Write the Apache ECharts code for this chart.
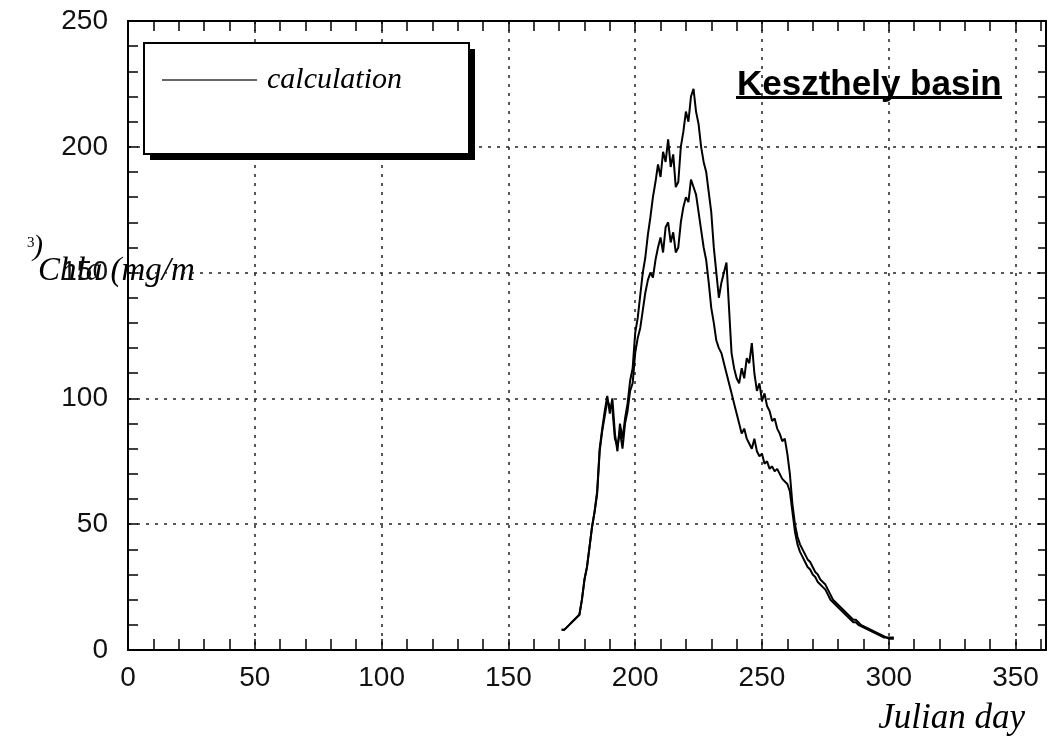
<!DOCTYPE html>
<html>
<head>
<meta charset="utf-8">
<script src="https://cdn.jsdelivr.net/npm/echarts@6/dist/echarts.min.js"></script>
<style>
html,body{margin:0;padding:0;background:#fff;}
#chart{width:1049px;height:746px;}
</style>
</head>
<body>
<div id="chart"></div>
<script>
// Julian days (171..302)
const days = [];
for (let d = 171; d <= 302; d++) days.push(d);

// upper calculation curve
const calcUpper = [
  8,8,9,10,11,12,13,14,20,28,
  33,41,49,55,63,80,88,95,101,94,
  100,86,79,90,84,92,98,107,112,126,
  132,141,150,156,165,172,180,186,193,188,
  198,194,203,192,197,184,186,200,206,214,
  210,220,223,214,209,200,194,190,182,174,
  160,150,140,146,150,154,136,118,112,108,
  106,112,108,116,114,122,110,103,106,99,
  102,97,95,91,92,88,86,83,84,78,
  70,58,50,45,42,40,38,36,35,33,
  31,30,28,27,26,24,22,20,19,18,
  17,16,15,14,13,12,12,11,10,9.5,
  9,8.5,8,7.5,7,6.5,6,5.5,5,5,
  5,5
];

// lower calculation curve
const calcLower = [
  8,8,9,10,11,12,13,14,20,28,
  33,41,49,55,62,79,87,93,99,97,
  96,84,81,87,80,90,95,103,106,118,
  124,128,135,142,147,150,148,155,160,164,
  158,168,170,162,166,158,160,170,176,180,
  178,187,184,181,174,167,160,155,146,136,
  130,123,120,118,114,110,106,102,98,94,
  90,86,88,84,82,80,84,79,77,78,
  74,75,72,73,71,72,70,68,67,66,
  63,55,47,42,39,37,35,33,32,30,
  29,27,26,25,24,22,20,19,18,17,
  16,15,14,13,12,11,11,10,9.5,9,
  8.5,8,7.5,7,6.5,6,5.5,5,5,4.5,
  4.5,4.5
];

const xTickLabels = [0, 50, 100, 150, 200, 250, 300, 350];
const yTickLabels = [0, 50, 100, 150, 200, 250];

const chart = echarts.init(document.getElementById('chart'), null, {renderer: 'canvas'});

const labelFont = {fontFamily: 'Liberation Sans', fontSize: 28, color: '#111'};
const gridLine = {show: true, lineStyle: {type: [3, 6], color: '#222', width: 1.5}};
const frameLine = {show: true, onZero: false, lineStyle: {color: '#000', width: 2}};

const option = {
  backgroundColor: '#fff',
  animation: false,
  grid: {left: 128, top: 21, right: 3, bottom: 96, containLabel: false},
  title: {
    text: 'Keszthely basin',
    left: 732, top: 63,
    textStyle: {fontFamily: 'Liberation Sans', fontWeight: 'bold', fontSize: 35, color: '#000'}
  },
  legend: {
    data: [{name: 'calculation', icon: 'rect'}],
    left: 143, top: 45,
    itemWidth: 95, itemHeight: 1.5,
    padding: [20, 66, 58, 19],
    selectedMode: false,
    z: 10,
    textStyle: {fontFamily: 'Liberation Serif', fontStyle: 'italic', fontSize: 30, color: '#000', padding: [0, 0, 0, 5]}
  },
  xAxis: [
    {
      type: 'value', min: 0, max: 362, interval: 10, position: 'bottom',
      axisLine: frameLine,
      axisTick: {show: true, inside: true, length: 11, lineStyle: {color: '#000', width: 1.5}},
      axisLabel: Object.assign({margin: 14, formatter: v => xTickLabels.indexOf(v) >= 0 ? String(v) : ''}, labelFont),
      splitLine: {show: false}
    },
    {
      type: 'value', min: 0, max: 362, interval: 10, position: 'top',
      axisLine: frameLine,
      axisTick: {show: true, inside: true, length: 10, lineStyle: {color: '#000', width: 1.5}},
      axisLabel: {show: false},
      splitLine: {show: false}
    },
    {
      type: 'value', min: 0, max: 362, interval: 50, position: 'bottom',
      axisLine: {show: false, onZero: false}, axisTick: {show: false}, axisLabel: {show: false},
      splitLine: gridLine
    }
  ],
  yAxis: [
    {
      type: 'value', min: 0, max: 250, interval: 10, position: 'left',
      axisLine: frameLine,
      axisTick: {show: true, inside: true, length: 10, lineStyle: {color: '#000', width: 1.5}},
      axisLabel: Object.assign({margin: 20, formatter: v => yTickLabels.indexOf(v) >= 0 ? String(v) : ''}, labelFont),
      splitLine: {show: false}
    },
    {
      type: 'value', min: 0, max: 250, interval: 10, position: 'right',
      axisLine: frameLine,
      axisTick: {show: true, inside: true, length: 8, lineStyle: {color: '#000', width: 1.5}},
      axisLabel: {show: false},
      splitLine: {show: false}
    },
    {
      type: 'value', min: 0, max: 250, interval: 50, position: 'left',
      axisLine: {show: false, onZero: false}, axisTick: {show: false}, axisLabel: {show: false},
      splitLine: gridLine
    }
  ],
  series: [
    {
      name: 'calculation', type: 'line', xAxisIndex: 0, yAxisIndex: 0,
      symbol: 'none', smooth: false,
      lineStyle: {color: '#000', width: 2},
      itemStyle: {color: '#333'},
      data: days.map((d, i) => [d, calcUpper[i]])
    },
    {
      name: 'calculation', type: 'line', xAxisIndex: 0, yAxisIndex: 0,
      symbol: 'none', smooth: false,
      lineStyle: {color: '#000', width: 2},
      itemStyle: {color: '#333'},
      data: days.map((d, i) => [d, calcLower[i]])
    }
  ],
  graphic: [
    {type: 'rect', z: 5, left: 150, top: 49, shape: {width: 325, height: 111}, style: {fill: '#000'}},
    {type: 'rect', z: 6, left: 143, top: 42, shape: {width: 325, height: 111}, style: {fill: '#fff', stroke: '#000', lineWidth: 2}},
    {type: 'rect', left: 736, top: 96, shape: {width: 266, height: 3}, style: {fill: '#000'}},
    {type: 'text', left: 38, top: 255, style: {text: 'Chla (mg/m', font: 'italic 33px "Liberation Serif"', fill: '#000'}},
    {type: 'text', left: 27, top: 236, style: {text: '3', font: '15px "Liberation Serif"', fill: '#000'}},
    {type: 'text', left: 33, top: 232, style: {text: ')', font: 'italic 30px "Liberation Serif"', fill: '#000'}},
    {type: 'text', right: 24, top: 701, style: {text: 'Julian day', font: 'italic 35px "Liberation Serif"', fill: '#000'}}
  ]
};

chart.setOption(option);
</script>
</body>
</html>
